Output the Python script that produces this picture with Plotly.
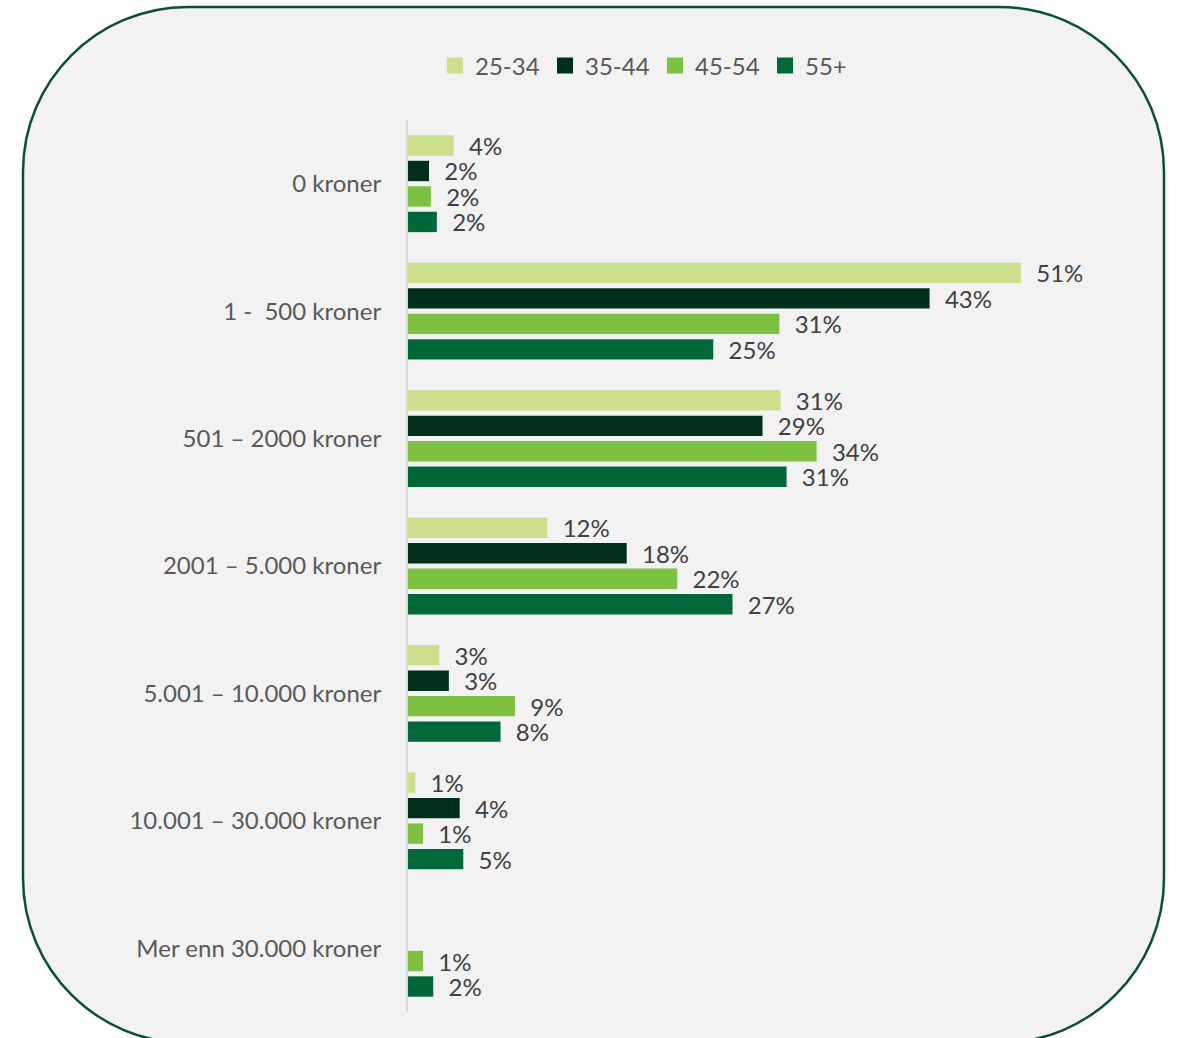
import plotly.graph_objects as go

categories = ["0 kroner", "1 -\u00a0 500 kroner", "501 – 2000 kroner", "2001 – 5.000 kroner",
              "5.001 – 10.000 kroner", "10.001 – 30.000 kroner", "Mer enn 30.000 kroner"]
series_names = ["25-34", "35-44", "45-54", "55+"]
s25_34 = [3.8, 51.0, 31.0, 11.6, 2.6, 0.6, None]
s35_44 = [1.75, 43.4, 29.5, 18.2, 3.4, 4.3, None]
s45_54 = [1.9, 30.9, 34.0, 22.4, 8.9, 1.25, 1.25]
s55 = [2.4, 25.4, 31.5, 27.0, 7.7, 4.6, 2.1]
l25_34 = ["4%", "51%", "31%", "12%", "3%", "1%", ""]
l35_44 = ["2%", "43%", "29%", "18%", "3%", "4%", ""]
l45_54 = ["2%", "31%", "34%", "22%", "9%", "1%", "1%"]
l55 = ["2%", "25%", "31%", "27%", "8%", "5%", "2%"]
colors = ["#cbdf8c", "#00301a", "#7cc142", "#006838"]

W, H = 1178, 1038
L, R, T, B = 408, 109, 120, 26
FONT = "Lato"
FS = 24

fig = go.Figure()
for name, vals, labs, col in zip(series_names, [s25_34, s35_44, s45_54, s55],
                                 [l25_34, l35_44, l45_54, l55], colors):
    fig.add_trace(go.Bar(
        y=categories, x=vals, name=name, orientation="h", showlegend=False,
        marker=dict(color=col, line=dict(width=0)),
        text=labs, texttemplate="  %{text}", textposition="outside",
        textfont=dict(family=FONT, size=FS, color="#404040"),
        cliponaxis=False, constraintext="none",
    ))
# legend entries (square swatches)
for name, col in zip(series_names, colors):
    fig.add_trace(go.Scatter(
        y=[None], x=[None], name=name, mode="markers",
        marker=dict(symbol="square", size=16, color=col), showlegend=True,
    ))

pw, ph = W - L - R, H - T - B
def px(x):
    return (x - L) / pw
def py(y):
    return (H - B - y) / ph

x0, y0, x1, y1, r = 23, 7, 1164, 1043, 165
k = 0.5523 * r
path = (f"M {px(x0 + r)},{py(y0)} L {px(x1 - r)},{py(y0)} "
        f"C {px(x1 - r + k)},{py(y0)} {px(x1)},{py(y0 + r - k)} {px(x1)},{py(y0 + r)} "
        f"L {px(x1)},{py(y1 - r)} "
        f"C {px(x1)},{py(y1 - r + k)} {px(x1 - r + k)},{py(y1)} {px(x1 - r)},{py(y1)} "
        f"L {px(x0 + r)},{py(y1)} "
        f"C {px(x0 + r - k)},{py(y1)} {px(x0)},{py(y1 - r + k)} {px(x0)},{py(y1 - r)} "
        f"L {px(x0)},{py(y0 + r)} "
        f"C {px(x0)},{py(y0 + r - k)} {px(x0 + r - k)},{py(y0)} {px(x0 + r)},{py(y0)} Z")

fig.add_shape(type="path", path=path, xref="paper", yref="paper", layer="below",
              fillcolor="#f2f2f2", line=dict(color="#0b5030", width=2.5))

fig.update_layout(
    width=W, height=H,
    margin=dict(l=L, r=R, t=T, b=B, autoexpand=False),
    paper_bgcolor="white", plot_bgcolor="rgba(0,0,0,0)",
    barmode="group", bargap=0.2, bargroupgap=0.2,
    font=dict(family=FONT, size=FS, color="#595959"),
    showlegend=True,
    legend=dict(orientation="h", xref="container", yref="container",
                x=435 / W, xanchor="left", y=1 - 66 / H, yanchor="middle",
                font=dict(family=FONT, size=FS, color="#595959"),
                bgcolor="rgba(0,0,0,0)", traceorder="normal", itemwidth=30,
                entrywidth=65, entrywidthmode="pixels"),
    xaxis=dict(range=[0, 55], showgrid=False, zeroline=False, showticklabels=False,
               showline=False),
    yaxis=dict(autorange="reversed", showgrid=False, zeroline=False,
               showline=True, linecolor="#d9d9d9", linewidth=2,
               ticks="outside", ticklen=20, tickcolor="rgba(0,0,0,0)",
               tickfont=dict(family=FONT, size=FS, color="#595959")),
)

fig.write_html("out.html", config={"displayModeBar": False},
               post_script="document.body.style.margin='0';")
